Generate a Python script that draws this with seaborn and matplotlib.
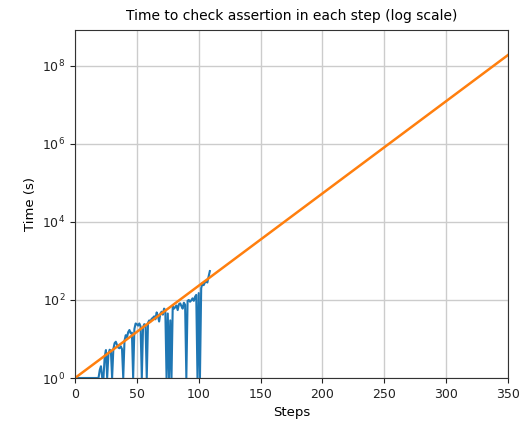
import numpy as np
import pandas as pd
import matplotlib
matplotlib.use("Agg")
import matplotlib.pyplot as plt
import seaborn as sns
from matplotlib.ticker import FixedLocator, LogFormatterMathtext, NullLocator

# Measured time per step (s)
steps = list(range(0, 110))
times = [1.0] * 20 + [
    1.6, 2.0, 1.0, 1.0, 3.5, 5.2, 1.0, 4.0, 5.3, 5.0,      # 20-29
    1.0, 5.5, 7.8, 8.5, 7.0, 6.0, 5.8, 6.5, 5.5, 1.0,      # 30-39
    9.0, 12.5, 11.0, 15.0, 17.0, 14.0, 14.5, 1.0, 18.0, 25.0,  # 40-49
    24.0, 22.0, 25.0, 21.0, 1.0, 20.0, 24.0, 23.0, 1.0, 26.0,  # 50-59
    30.0, 28.0, 33.0, 35.0, 38.0, 32.0, 48.0, 40.0, 28.0, 45.0,  # 60-69
    50.0, 42.0, 60.0, 55.0, 1.0, 45.0, 1.0, 30.0, 1.0, 70.0,   # 70-79
    60.0, 65.0, 72.0, 55.0, 78.0, 82.0, 70.0, 60.0, 85.0, 75.0,  # 80-89
    1.0, 95.0, 100.0, 90.0, 98.0, 110.0, 95.0, 120.0, 135.0, 1.0,  # 90-99
    150.0, 1.0, 200.0, 270.0, 240.0, 280.0, 300.0, 280.0, 400.0, 550.0,  # 100-109
]

# Exponential fit (straight line on log scale)
fit_steps = [0, 350]
fit_times = [1.0, 1.9e8]

x_ticks = [0, 50, 100, 150, 200, 250, 300, 350]
y_ticks = [1e0, 1e2, 1e4, 1e6, 1e8]

plt.rcParams["font.family"] = ["DejaVu Sans"]

fig = plt.figure(figsize=(5.27, 4.29), dpi=100)
ax = fig.add_axes([75 / 527, 1 - 378 / 429, (508 - 75) / 527, (378 - 30) / 429])

sns.lineplot(x=steps, y=times, ax=ax, color="#1f77b4", linewidth=1.5)
sns.lineplot(x=fit_steps, y=fit_times, ax=ax, color="#ff7f0e", linewidth=1.8)

ax.set_yscale("log")
ax.set_xlim(0, 350)
ax.set_ylim(1, 10 ** 8.92)
ax.xaxis.set_major_locator(FixedLocator(x_ticks))
ax.yaxis.set_major_locator(FixedLocator(y_ticks))
ax.yaxis.set_major_formatter(LogFormatterMathtext())
ax.yaxis.set_minor_locator(NullLocator())
ax.grid(True, color="#cccccc", linewidth=1.0)
ax.set_axisbelow(True)
ax.tick_params(labelsize=9, colors="#222222")
for s in ax.spines.values():
    s.set_color("#333333")

ax.set_title("Time to check assertion in each step (log scale)", fontsize=10, pad=7)
ax.set_xlabel("Steps", fontsize=9.5)
ax.set_ylabel("Time (s)", fontsize=9.5)

fig.savefig("out.png", dpi=100)
